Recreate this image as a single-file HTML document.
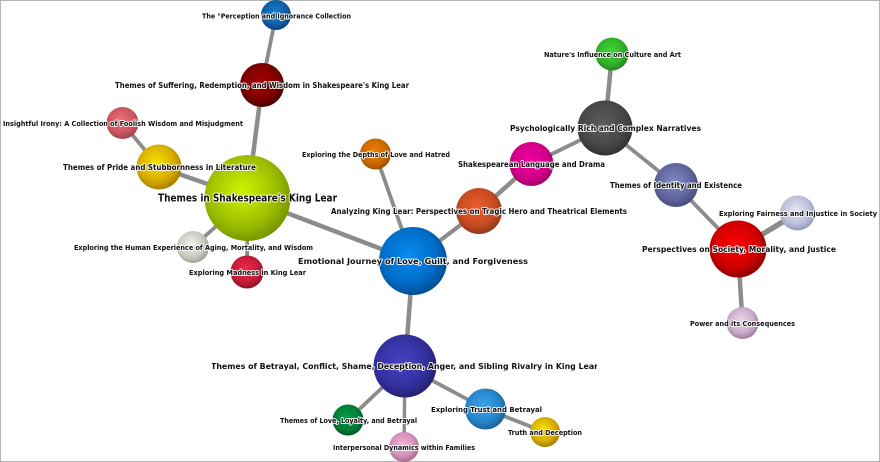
<!DOCTYPE html>
<html><head><meta charset="utf-8"><style>
html,body{margin:0;padding:0;background:#fff;width:880px;height:462px;overflow:hidden}
svg{display:block;filter:blur(.3px)}
text{font-family:"DejaVu Sans","Liberation Sans",sans-serif;font-weight:bold;fill:#111;stroke:#fff;stroke-opacity:.9;stroke-width:2px;paint-order:stroke;stroke-linejoin:round;font-size:7.4px;text-anchor:start}
text.m{font-size:8.1px}
text.l{font-size:10.2px}
line{stroke:#8c8c8c;stroke-width:3.8}
</style></head><body>
<svg width="880" height="462" viewBox="0 0 880 462" xmlns="http://www.w3.org/2000/svg">
<defs>
<radialGradient id="a" cx=".46" cy=".42" r=".6"><stop offset="0" stop-color="#1b7fd0"/><stop offset=".65" stop-color="#105ea6"/><stop offset="1" stop-color="#0a4079"/></radialGradient>
<radialGradient id="b" cx=".46" cy=".42" r=".6"><stop offset="0" stop-color="#a80000"/><stop offset=".65" stop-color="#7c0000"/><stop offset="1" stop-color="#4c0000"/></radialGradient>
<radialGradient id="c" cx=".46" cy=".42" r=".6"><stop offset="0" stop-color="#f3717c"/><stop offset=".65" stop-color="#cc5560"/><stop offset="1" stop-color="#98424a"/></radialGradient>
<radialGradient id="d" cx=".44" cy=".4" r=".62"><stop offset="0" stop-color="#f8e000"/><stop offset=".65" stop-color="#d6ac00"/><stop offset="1" stop-color="#a47a00"/></radialGradient>
<radialGradient id="e" cx=".44" cy=".42" r=".62"><stop offset="0" stop-color="#cdf500"/><stop offset=".65" stop-color="#9cbe00"/><stop offset="1" stop-color="#728e00"/></radialGradient>
<radialGradient id="f" cx=".46" cy=".42" r=".6"><stop offset="0" stop-color="#ef8000"/><stop offset=".65" stop-color="#cc6a00"/><stop offset="1" stop-color="#964c00"/></radialGradient>
<radialGradient id="g" cx=".46" cy=".42" r=".6"><stop offset="0" stop-color="#ed5c2c"/><stop offset=".65" stop-color="#c84c22"/><stop offset="1" stop-color="#8e351c"/></radialGradient>
<radialGradient id="h" cx=".46" cy=".42" r=".6"><stop offset="0" stop-color="#f000a0"/><stop offset=".65" stop-color="#d4008a"/><stop offset="1" stop-color="#960066"/></radialGradient>
<radialGradient id="i" cx=".46" cy=".42" r=".6"><stop offset="0" stop-color="#5c5c5c"/><stop offset=".65" stop-color="#484848"/><stop offset="1" stop-color="#303030"/></radialGradient>
<radialGradient id="j" cx=".46" cy=".42" r=".6"><stop offset="0" stop-color="#44d638"/><stop offset=".65" stop-color="#31b22a"/><stop offset="1" stop-color="#22821d"/></radialGradient>
<radialGradient id="k" cx=".46" cy=".42" r=".6"><stop offset="0" stop-color="#8088c4"/><stop offset=".65" stop-color="#60659d"/><stop offset="1" stop-color="#454978"/></radialGradient>
<radialGradient id="l" cx=".46" cy=".42" r=".6"><stop offset="0" stop-color="#e6e8f2"/><stop offset=".65" stop-color="#bcc0da"/><stop offset="1" stop-color="#9295b8"/></radialGradient>
<radialGradient id="m" cx=".46" cy=".42" r=".6"><stop offset="0" stop-color="#ff0000"/><stop offset=".65" stop-color="#d00000"/><stop offset="1" stop-color="#8a0000"/></radialGradient>
<radialGradient id="n" cx=".46" cy=".42" r=".6"><stop offset="0" stop-color="#ead9ea"/><stop offset=".65" stop-color="#c9acc9"/><stop offset="1" stop-color="#9c789c"/></radialGradient>
<radialGradient id="o" cx=".44" cy=".42" r=".62"><stop offset="0" stop-color="#0a8cf0"/><stop offset=".65" stop-color="#006cc8"/><stop offset="1" stop-color="#004a88"/></radialGradient>
<radialGradient id="p" cx=".44" cy=".42" r=".62"><stop offset="0" stop-color="#f2f2ee"/><stop offset=".65" stop-color="#cacac2"/><stop offset="1" stop-color="#98988e"/></radialGradient>
<radialGradient id="q" cx=".46" cy=".42" r=".6"><stop offset="0" stop-color="#f02848"/><stop offset=".65" stop-color="#c41c3a"/><stop offset="1" stop-color="#841226"/></radialGradient>
<radialGradient id="r" cx=".44" cy=".42" r=".62"><stop offset="0" stop-color="#4840c4"/><stop offset=".65" stop-color="#34309e"/><stop offset="1" stop-color="#221e6a"/></radialGradient>
<radialGradient id="s" cx=".46" cy=".42" r=".6"><stop offset="0" stop-color="#0c9a48"/><stop offset=".65" stop-color="#007e36"/><stop offset="1" stop-color="#005224"/></radialGradient>
<radialGradient id="t" cx=".46" cy=".42" r=".6"><stop offset="0" stop-color="#f2b8d8"/><stop offset=".65" stop-color="#d390b8"/><stop offset="1" stop-color="#a06a88"/></radialGradient>
<radialGradient id="u" cx=".44" cy=".42" r=".62"><stop offset="0" stop-color="#3aa4ee"/><stop offset=".65" stop-color="#2684c8"/><stop offset="1" stop-color="#185a8e"/></radialGradient>
<clipPath id="clip"><rect x="212" y="355" width="385" height="22"/></clipPath>
</defs>
<rect x=".5" y=".5" width="879" height="461" fill="#fff" stroke="#b4b4b4" stroke-width="1"/>
<line x1="276" y1="15" x2="262" y2="85"/>
<line x1="262" y1="85" x2="247.5" y2="198" style="stroke-width:4.5"/>
<line x1="122.5" y1="123" x2="159" y2="167"/>
<line x1="159" y1="167" x2="247.5" y2="198" style="stroke-width:4.5"/>
<line x1="247.5" y1="198" x2="413" y2="261" style="stroke-width:4.5"/>
<line x1="247.5" y1="198" x2="193" y2="247"/>
<line x1="247.5" y1="198" x2="247" y2="272"/>
<line x1="375.5" y1="154" x2="413" y2="261"/>
<line x1="413" y1="261" x2="479" y2="211" style="stroke-width:4.2"/>
<line x1="479" y1="211" x2="531.5" y2="164" style="stroke-width:4.5"/>
<line x1="531.5" y1="164" x2="605" y2="128"/>
<line x1="605" y1="128" x2="612" y2="54" style="stroke-width:4.5"/>
<line x1="605" y1="128" x2="676" y2="185"/>
<line x1="676" y1="185" x2="738" y2="249"/>
<line x1="738" y1="249" x2="797.5" y2="213" style="stroke-width:5.5"/>
<line x1="738" y1="249" x2="742.5" y2="323" style="stroke-width:4.5"/>
<line x1="413" y1="261" x2="405" y2="366" style="stroke-width:4.5"/>
<line x1="405" y1="366" x2="348" y2="420"/>
<line x1="405" y1="366" x2="404" y2="447" style="stroke-width:3.4"/>
<line x1="405" y1="366" x2="485.5" y2="409"/>
<line x1="485.5" y1="409" x2="545" y2="432"/>
<circle cx="276" cy="15" r="15" fill="url(#a)"/>
<circle cx="262" cy="85" r="22" fill="url(#b)"/>
<circle cx="122.5" cy="123" r="16" fill="url(#c)"/>
<circle cx="159" cy="167" r="22.5" fill="url(#d)"/>
<circle cx="247.5" cy="198" r="43" fill="url(#e)"/>
<circle cx="375.5" cy="154" r="15.5" fill="url(#f)"/>
<circle cx="479" cy="211" r="23" fill="url(#g)"/>
<circle cx="531.5" cy="164" r="22" fill="url(#h)"/>
<circle cx="605" cy="128" r="27.5" fill="url(#i)"/>
<circle cx="612" cy="54" r="16.5" fill="url(#j)"/>
<circle cx="676" cy="185" r="22" fill="url(#k)"/>
<circle cx="797.5" cy="213" r="17.5" fill="url(#l)"/>
<circle cx="738" cy="249" r="28.5" fill="url(#m)"/>
<circle cx="742.5" cy="323" r="16" fill="url(#n)"/>
<circle cx="413" cy="261" r="34" fill="url(#o)"/>
<circle cx="193" cy="247" r="16" fill="url(#p)"/>
<circle cx="247" cy="272" r="16.5" fill="url(#q)"/>
<circle cx="405" cy="366" r="31.5" fill="url(#r)"/>
<circle cx="348" cy="420" r="15.5" fill="url(#s)"/>
<circle cx="404" cy="447" r="15" fill="url(#t)"/>
<circle cx="485.5" cy="409" r="20.5" fill="url(#u)"/>
<circle cx="545" cy="432" r="15" fill="url(#d)"/>
<text x="202" y="18.500" textLength="149" lengthAdjust="spacingAndGlyphs">The "Perception and Ignorance Collection</text>
<text class="m" x="115" y="88" textLength="294" lengthAdjust="spacingAndGlyphs">Themes of Suffering, Redemption, and Wisdom in Shakespeare's King Lear</text>
<text x="3" y="126" textLength="240" lengthAdjust="spacingAndGlyphs">Insightful Irony: A Collection of Foolish Wisdom and Misjudgment</text>
<text class="m" x="63" y="170" textLength="193" lengthAdjust="spacingAndGlyphs">Themes of Pride and Stubbornness in Literature</text>
<text class="l" x="158" y="201.500" textLength="179" lengthAdjust="spacingAndGlyphs">Themes in Shakespeare's King Lear</text>
<text x="302" y="157" textLength="148" lengthAdjust="spacingAndGlyphs">Exploring the Depths of Love and Hatred</text>
<text class="m" x="331" y="214" textLength="296" lengthAdjust="spacingAndGlyphs">Analyzing King Lear: Perspectives on Tragic Hero and Theatrical Elements</text>
<text class="m" x="458" y="167" textLength="147" lengthAdjust="spacingAndGlyphs">Shakespearean Language and Drama</text>
<text class="m" x="510" y="131" textLength="191" lengthAdjust="spacingAndGlyphs">Psychologically Rich and Complex Narratives</text>
<text x="544" y="57" textLength="137" lengthAdjust="spacingAndGlyphs">Nature's Influence on Culture and Art</text>
<text class="m" x="610" y="188" textLength="132" lengthAdjust="spacingAndGlyphs">Themes of Identity and Existence</text>
<text x="719" y="216" textLength="158" lengthAdjust="spacingAndGlyphs">Exploring Fairness and Injustice in Society</text>
<text class="m" x="642" y="252" textLength="194" lengthAdjust="spacingAndGlyphs">Perspectives on Society, Morality, and Justice</text>
<text x="690" y="326" textLength="105" lengthAdjust="spacingAndGlyphs">Power and its Consequences</text>
<text class="m" x="298" y="264" textLength="230" lengthAdjust="spacingAndGlyphs">Emotional Journey of Love, Guilt, and Forgiveness</text>
<text x="74" y="250" textLength="239" lengthAdjust="spacingAndGlyphs">Exploring the Human Experience of Aging, Mortality, and Wisdom</text>
<text x="189" y="275" textLength="117" lengthAdjust="spacingAndGlyphs">Exploring Madness in King Lear</text>
<g clip-path="url(#clip)"><text class="m" x="211" y="369" textLength="387" lengthAdjust="spacingAndGlyphs">Themes of Betrayal, Conflict, Shame, Deception, Anger, and Sibling Rivalry in King Lear</text></g>
<text x="280" y="423" textLength="137" lengthAdjust="spacingAndGlyphs">Themes of Love, Loyalty, and Betrayal</text>
<text x="333" y="450" textLength="142" lengthAdjust="spacingAndGlyphs">Interpersonal Dynamics within Families</text>
<text x="431" y="412" textLength="111" lengthAdjust="spacingAndGlyphs">Exploring Trust and Betrayal</text>
<text x="508" y="435" textLength="74" lengthAdjust="spacingAndGlyphs">Truth and Deception</text>
</svg>
</body></html>
